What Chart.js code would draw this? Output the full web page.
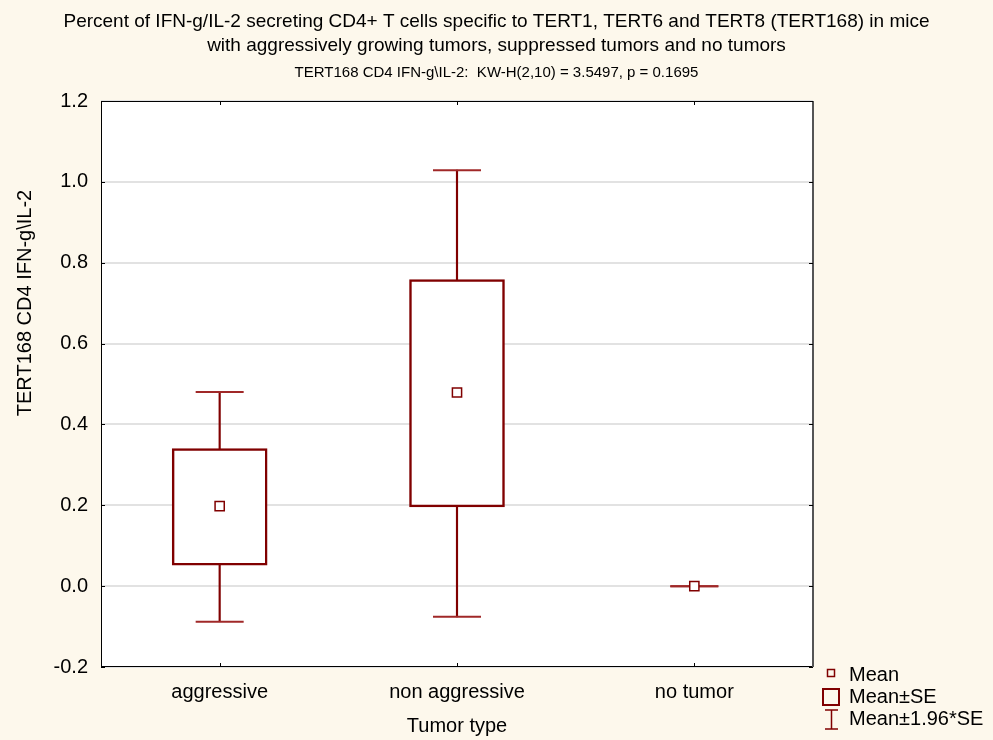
<!DOCTYPE html>
<html>
<head>
<meta charset="utf-8">
<script src="https://cdn.jsdelivr.net/npm/chart.js@4.4.1/dist/chart.umd.min.js"></script>
<style>
  html, body { margin: 0; padding: 0; background: #fdf8ec; }
  #wrap { width: 993px; height: 740px; }
</style>
</head>
<body>
<div id="wrap"><canvas id="c" width="993" height="740"></canvas></div>
<script>
// Tumor groups and summary statistics for TERT168 CD4 IFN-g/IL-2
const categories = ['aggressive', 'non aggressive', 'no tumor'];
const means      = [0.198, 0.479, 0.0];
const seLow      = [0.052, 0.196, 0.0];   // Mean - SE
const seHigh     = [0.340, 0.758, 0.0];   // Mean + SE
const ciLow      = [-0.088, -0.076, 0.0]; // Mean - 1.96*SE
const ciHigh     = [0.480, 1.029, 0.0];   // Mean + 1.96*SE
const yTicks     = [-0.2, 0.0, 0.2, 0.4, 0.6, 0.8, 1.0, 1.2];

const titleLines = [
  'Percent of IFN-g/IL-2 secreting CD4+ T cells specific to TERT1, TERT6 and TERT8 (TERT168) in mice',
  'with aggressively growing tumors, suppressed tumors and no tumors'
];
const subTitle = 'TERT168 CD4 IFN-g\\IL-2:  KW-H(2,10) = 3.5497, p = 0.1695';
const yTitle = 'TERT168 CD4 IFN-g\\IL-2';
const xTitle = 'Tumor type';
const legendItems = ['Mean', 'Mean\u00B1SE', 'Mean\u00B11.96*SE'];

const FONT = '"Liberation Sans", Arial, sans-serif';
const RED = '#800000';

const decorations = {
  id: 'decorations',
  beforeDraw(chart) {
    const { ctx, chartArea: a } = chart;
    ctx.save();
    ctx.fillStyle = '#fdf8ec';
    ctx.fillRect(0, 0, chart.width, chart.height);
    ctx.fillStyle = '#ffffff';
    ctx.fillRect(a.left, a.top, a.right - a.left, a.bottom - a.top);
    ctx.restore();
  },
  afterDraw(chart) {
    const { ctx, chartArea: a, scales } = chart;
    ctx.save();
    // frame
    ctx.strokeStyle = '#000';
    ctx.lineWidth = 1;
    ctx.strokeRect(a.left + 0.5, a.top + 0.5, a.right - a.left - 1, a.bottom - a.top - 1);
    ctx.strokeStyle = '#555';
    ctx.lineWidth = 2;
    ctx.beginPath();
    ctx.moveTo(a.right, a.top); ctx.lineTo(a.right, a.bottom);
    ctx.stroke();

    // inward tick marks
    ctx.strokeStyle = '#000';
    ctx.lineWidth = 1;
    ctx.beginPath();
    scales.x.ticks.forEach((t, i) => {
      const x = Math.round(scales.x.getPixelForTick(i)) + 0.5;
      ctx.moveTo(x, a.top); ctx.lineTo(x, a.top + 4);
      ctx.moveTo(x, a.bottom); ctx.lineTo(x, a.bottom - 4);
    });
    scales.y.ticks.forEach((t, i) => {
      const y = Math.round(scales.y.getPixelForTick(i)) + 0.5;
      ctx.moveTo(a.left, y); ctx.lineTo(a.left + 4, y);
      ctx.moveTo(a.right, y); ctx.lineTo(a.right - 4, y);
    });
    ctx.stroke();

    // titles
    ctx.fillStyle = '#000';
    ctx.textAlign = 'center';
    ctx.textBaseline = 'middle';
    ctx.font = '19px ' + FONT;
    ctx.fillText(titleLines[0], chart.width / 2, 22);
    ctx.fillText(titleLines[1], chart.width / 2, 46);
    ctx.font = '15px ' + FONT;
    ctx.fillText(subTitle, chart.width / 2, 73);

    // axis titles
    ctx.font = '20px ' + FONT;
    ctx.fillText(xTitle, (a.left + a.right) / 2, 726);
    ctx.save();
    ctx.translate(25, 303);
    ctx.rotate(-Math.PI / 2);
    ctx.fillText(yTitle, 0, 0);
    ctx.restore();

    // legend
    ctx.strokeStyle = RED;
    ctx.lineWidth = 1.5;
    ctx.strokeRect(827.5, 669.5, 7, 7);
    ctx.lineWidth = 2;
    ctx.strokeRect(823, 689, 16, 16);
    ctx.lineWidth = 1.5;
    ctx.beginPath();
    ctx.moveTo(831.5, 710); ctx.lineTo(831.5, 729);
    ctx.moveTo(825, 710); ctx.lineTo(838, 710);
    ctx.moveTo(825, 729); ctx.lineTo(838, 729);
    ctx.stroke();
    ctx.fillStyle = '#000';
    ctx.textAlign = 'left';
    ctx.font = '20px ' + FONT;
    ctx.fillText(legendItems[0], 849, 675);
    ctx.fillText(legendItems[1], 849, 697);
    ctx.fillText(legendItems[2], 849, 719);
    ctx.restore();
  }
};

new Chart(document.getElementById('c'), {
  data: {
    labels: categories,
    datasets: [
      { // whisker stem
        type: 'bar',
        data: categories.map((_, i) => [ciLow[i], ciHigh[i]]),
        backgroundColor: RED,
        borderWidth: 0,
        barThickness: 1.5,
        grouped: false,
        order: 4
      },
      { // Mean ± SE box
        type: 'bar',
        data: categories.map((_, i) => [seLow[i], seHigh[i]]),
        backgroundColor: '#ffffff',
        borderColor: RED,
        borderWidth: 2.5,
        borderSkipped: false,
        barThickness: 95,
        grouped: false,
        order: 3
      },
      { // upper caps
        type: 'line',
        data: ciHigh,
        showLine: false,
        pointStyle: 'line',
        pointRadius: 24,
        borderColor: '#a02828',
        borderWidth: 2,
        order: 2
      },
      { // lower caps
        type: 'line',
        data: ciLow,
        showLine: false,
        pointStyle: 'line',
        pointRadius: 24,
        borderColor: '#a02828',
        borderWidth: 2,
        order: 2
      },
      { // means
        type: 'line',
        data: means,
        showLine: false,
        pointStyle: 'rect',
        pointRadius: 6.5,
        backgroundColor: '#ffffff',
        borderColor: RED,
        borderWidth: 1.5,
        order: 1
      }
    ]
  },
  options: {
    responsive: false,
    animation: false,
    events: [],
    layout: { padding: { top: 101, right: 180, bottom: 0, left: 0 } },
    plugins: {
      legend: { display: false },
      tooltip: { enabled: false },
      title: { display: false }
    },
    scales: {
      x: {
        type: 'category',
        offset: true,
        grid: { display: false },
        border: { display: false },
        ticks: { color: '#000', font: { family: FONT, size: 20 }, padding: 5, maxRotation: 0 },
        afterFit(s) { s.height = 73; }
      },
      y: {
        type: 'linear',
        min: yTicks[0],
        max: yTicks[yTicks.length - 1],
        afterBuildTicks(s) { s.ticks = yTicks.map(v => ({ value: v })); },
        grid: { color: '#e2e2e2', lineWidth: 2, drawTicks: false },
        border: { display: false },
        ticks: {
          color: '#000',
          font: { family: FONT, size: 20 },
          padding: 13,
          callback: v => Number(v).toFixed(1)
        },
        afterFit(s) { s.width = 101; }
      }
    }
  },
  plugins: [decorations]
});
</script>
</body>
</html>
